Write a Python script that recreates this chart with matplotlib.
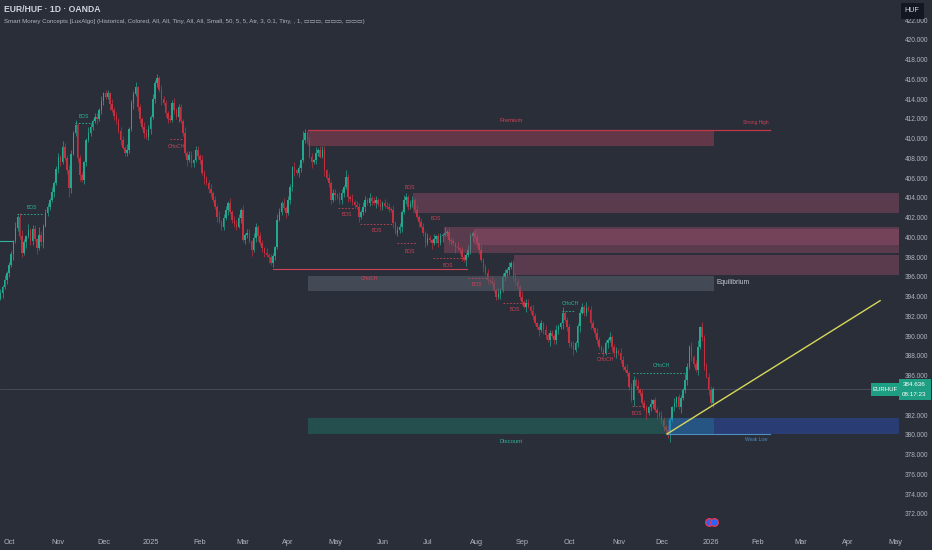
import matplotlib
matplotlib.use("Agg")
import numpy as np
import pandas as pd
import matplotlib.pyplot as plt
from matplotlib.patches import Rectangle
from matplotlib import font_manager

# ---------------- data ----------------
START_DATE = "2024-09-25"
OPEN0 = 393.8
CLOSE = [
    394.4, 395.0, 395.7, 396.4, 397.2, 398.3, 399.6, 401.0, 402.1, 400.2,
    398.4, 399.5, 400.1, 400.8, 399.6, 400.9, 399.8, 398.9, 400.3, 399.5,
    401.2, 402.5, 403.1, 403.8, 404.6, 405.5, 406.9, 408.2, 407.6, 409.2,
    408.0, 406.8, 405.0, 408.5, 410.6, 411.4, 408.0, 406.3, 405.8, 407.6,
    409.9, 410.6, 411.2, 411.8, 412.2, 412.0, 412.9, 413.8, 414.6, 414.2,
    414.6, 413.5, 412.9, 412.3, 411.9, 410.8, 409.9, 409.1, 408.6, 408.9,
    411.0, 413.6, 414.5, 415.2, 413.2, 412.0, 411.2, 410.6, 410.2, 411.0,
    412.2, 414.0, 415.6, 416.2, 414.9, 414.0, 413.6, 412.6, 412.0, 411.9,
    413.6, 412.9, 412.2, 413.2, 411.8, 410.6, 408.6, 407.8, 408.4, 407.5,
    407.8, 408.9, 408.3, 407.8, 406.5, 406.0, 405.5, 404.9, 404.5, 403.8,
    403.1, 402.1, 401.6, 401.1, 402.0, 402.8, 403.5, 402.6, 401.8, 401.4,
    401.1, 402.0, 402.8, 399.7, 400.3, 400.5, 399.6, 398.7, 399.9, 401.1,
    400.2, 399.4, 398.9, 398.4, 398.2, 398.0, 397.4, 398.1, 399.0, 401.8,
    402.6, 403.5, 403.0, 402.5, 403.8, 405.1, 407.1, 406.8, 406.5, 407.0,
    407.8, 409.9, 410.6, 409.8, 408.2, 407.6, 407.8, 408.6, 408.9, 408.2,
    408.9, 406.8, 406.0, 405.5, 403.8, 404.5, 404.3, 404.1, 403.8, 404.5,
    405.1, 406.1, 404.1, 403.9, 403.6, 403.3, 403.1, 402.1, 402.6, 403.1,
    403.8, 403.5, 404.0, 403.7, 403.5, 403.8, 403.4, 403.1, 403.5, 403.2,
    403.1, 402.9, 402.8, 401.5, 400.5, 400.8, 401.1, 402.6, 403.8, 404.1,
    403.1, 403.4, 403.8, 402.8, 402.1, 401.6, 401.1, 400.5, 399.4, 399.9,
    399.7, 399.4, 399.8, 400.1, 399.4, 400.1, 400.3, 400.5, 400.6, 399.7,
    399.6, 399.4, 399.0, 398.9, 398.7, 398.0, 397.7, 398.2, 398.7, 400.1,
    400.5, 400.0, 399.4, 398.7, 397.7, 397.0, 396.4, 395.7, 395.6, 395.4,
    394.7, 394.0, 394.3, 394.7, 396.0, 396.4, 396.7, 397.0, 397.4, 396.0,
    395.5, 395.0, 394.0, 393.5, 393.0, 393.4, 393.0, 392.6, 392.0, 391.3,
    390.9, 390.6, 391.3, 390.6, 390.1, 389.6, 390.3, 390.0, 389.6, 390.6,
    390.9, 391.3, 392.4, 391.6, 390.9, 389.3, 389.0, 388.6, 389.3, 391.0,
    392.4, 393.0, 392.4, 392.9, 392.7, 391.3, 390.8, 390.3, 389.6, 388.9,
    388.6, 388.3, 389.3, 389.6, 389.9, 388.9, 388.3, 388.5, 388.3, 387.6,
    386.9, 386.6, 386.3, 384.9, 383.5, 385.6, 385.0, 384.6, 384.3, 383.2,
    382.7, 382.2, 382.8, 383.1, 383.5, 382.5, 382.2, 381.9, 381.5, 380.8,
    380.5, 380.2, 381.5, 382.8, 383.2, 383.8, 382.8, 383.7, 384.6, 385.6,
    386.9, 388.9, 387.9, 387.2, 386.6, 388.9, 390.9, 389.9, 386.9, 385.9,
    384.6, 383.2, 384.636,
]
# wick lengths (one digit per bar, in WICK_UNIT steps), upper / lower
UPPER_WICK = ("2131221312" "3213122142" "1221312213" "2232131221" "1321221312"
              "2132212213" "1223121322" "1322132212" "2312213122" "1221321231"
              "2131221312" "2213122132" "1221312213" "2131221312" "1521221312"
              "2213122132" "1421312213" "2131221312" "2213122132" "1221312213"
              "2131221312" "2213122132" "1221312213" "2131221312" "2213122132"
              "1221312213" "2131221312" "2213122132" "1221312213" "2131221312"
              "2213122132" "1221312213" "2131241312" "221")
LOWER_WICK = ("1312213122" "2131221312" "3122131221" "1253122312" "2122131221"
              "1312213122" "2131221312" "3122131221" "1213122312" "2122131221"
              "1312213122" "2131221312" "3122131221" "1213122312" "2122131221"
              "1312213122" "2131221312" "3122131221" "1213122312" "2122131221"
              "1312213122" "2131221312" "3122131221" "1213122312" "2122131221"
              "1312213122" "2131221312" "3122131221" "1213122312" "2122131221"
              "1312213122" "2351221312" "3122131221" "312")
WICK_UNIT = 0.18

PRICE_TICKS = list(range(372, 424, 2))
HIDDEN_TICKS = [384]          # covered by the last-price label in the reference
LAST_PRICE = 384.636
COUNTDOWN = "08:17:23"

# zones: (left bar, right bar, low, high)
PREMIUM = (143.3, 332.5, 409.3, 410.9)
EQUILIB = (143.3, 332.5, 394.6, 396.1)
DISCOUNT = (143.3, 332.5, 380.1, 381.7)
WEAKLOW_BOX = (311.1, 418.7, 380.1, 381.7)
ORDER_BLOCKS = [
    (192.3, 418.7, 402.5, 404.5),
    (206.7, 418.7, 398.4, 401.1),
    (220.7, 418.7, 399.2, 400.9),
    (239.3, 418.7, 396.2, 398.2),
]
STRONG_HIGH_LINE = (143.3, 358.6, 410.9)
WEAK_LOW_LINE = (310.6, 358.6, 380.1)
TRENDLINE = [(310.6, 380.1), (409.9, 393.6)]

# structure lines: (x0, x1, price, kind, label, label_x, label_price, dashed)
STRUCT = [
    (7.7, 19.8, 402.4, "bull", "BOS", 14.7, 403.0, True),
    (34.8, 41.7, 411.6, "bull", "BOS", 39.0, 412.3, True),
    (79.0, 85.0, 410.0, "bear", "CHoCH", 82.0, 409.2, True),
    (126.9, 217.4, 396.8, "bear", "CHoCH", 172.0, 395.8, False),
    (157.3, 165.2, 403.0, "bear", "BOS", 161.5, 402.3, True),
    (167.5, 182.5, 401.4, "bear", "BOS", 175.5, 400.7, True),
    (184.8, 194.1, 399.4, "bear", "BOS", 190.9, 398.6, True),
    (201.6, 215.1, 397.9, "bear", "BOS", 208.6, 397.2, True),
    (217.9, 226.7, 395.9, "bear", "BOS", 222.1, 395.2, True),
    (234.2, 245.4, 393.4, "bear", "BOS", 239.8, 392.7, True),
    (261.7, 267.8, 392.6, "bull", "CHoCH", 265.4, 393.3, True),
    (278.5, 285.0, 388.3, "bear", "CHoCH", 281.8, 387.6, True),
    (294.8, 320.0, 386.3, "bull", "CHoCH", 307.8, 387.0, True),
    (294.3, 299.4, 382.9, "bear", "BOS", 296.7, 382.2, True),
    (-0.2, 5.9, 399.65, "bull", "", 0, 0, False),
]
EXTRA_LABELS = [("BOS", 190.9, 405.1, "bear"), ("BOS", 203.0, 401.9, "bear")]

TITLE = "EUR/HUF · 1D · OANDA"
SUBTITLE = ("Smart Money Concepts [LuxAlgo] (Historical, Colored, All, All, Tiny, All, All, "
            "Small, 50, 5, 5, Atr, 3, 0.1, Tiny, , 1, ▭▭▭, ▭▭▭, ▭▭▭)")

# ---------------- style ----------------
BG = "#2a2e39"
TXT = "#b2b5be"
GREEN = "#22a88f"
RED = "#c4303f"
LBL_RED = "#cc4458"
LBL_GREEN = "#2bb59a"


def pick(fams):
    for f in fams:
        try:
            font_manager.findfont(f, fallback_to_default=False)
            return f
        except Exception:
            pass
    return "DejaVu Sans"


NARROW = pick(["Liberation Sans Narrow", "Liberation Sans", "DejaVu Sans"])
plt.rcParams["font.family"] = [NARROW, "DejaVu Sans"]

W, H = 932, 550
fig = plt.figure(figsize=(W / 100, H / 100), dpi=100, facecolor=BG)
ax = fig.add_axes([0, 22 / H, 899 / W, 528 / H])
ax.set_facecolor(BG)
ax.set_xlim(-0.19, 418.7)
ax.set_ylim(370.58, 424.05)
for s in ax.spines.values():
    s.set_visible(False)

close = np.array(CLOSE)
n = len(close)
idx = np.arange(n)
opens = np.r_[OPEN0, close[:-1]]
up = np.array([int(c) for c in UPPER_WICK]) * WICK_UNIT
dn = np.array([int(c) for c in LOWER_WICK]) * WICK_UNIT
hi = np.maximum(opens, close) + up
lo = np.minimum(opens, close) - dn
cols = np.where(close >= opens, GREEN, RED)

ax.vlines(idx, lo, hi, colors=cols, lw=0.5, zorder=2)
ax.bar(idx, np.maximum(np.abs(close - opens), 0.06), bottom=np.minimum(opens, close),
       width=0.72, color=cols, linewidth=0, zorder=2)

# current price line
ax.axhline(LAST_PRICE, color="#4a4f5c", lw=0.6, zorder=1)


def box(z, fc, alpha, zo=3):
    x0, x1, y0, y1 = z
    ax.add_patch(Rectangle((x0, y0), x1 - x0, y1 - y0, facecolor=fc, alpha=alpha,
                           edgecolor="none", zorder=zo))


box(PREMIUM, "#a8435a", 0.45)
for ob in ORDER_BLOCKS:
    box(ob, "#9c4f6a", 0.42)
box(EQUILIB, "#565c6a", 0.6)
box(DISCOUNT, "#1e8a78", 0.35)
box(WEAKLOW_BOX, "#2962ff", 0.3)

ax.plot(STRONG_HIGH_LINE[:2], [STRONG_HIGH_LINE[2]] * 2, color="#c0394a", lw=0.9, zorder=4)
ax.plot(WEAK_LOW_LINE[:2], [WEAK_LOW_LINE[2]] * 2, color="#4f8fc0", lw=0.8, zorder=4)
ax.plot([p[0] for p in TRENDLINE], [p[1] for p in TRENDLINE], color="#d8d85a", lw=1.0, zorder=5)

for x0, x1, p, kind, lab, lx, lp, dashed in STRUCT:
    c = LBL_GREEN if kind == "bull" else LBL_RED
    ax.plot([x0, x1], [p, p], color=c, lw=0.8 if not dashed else 0.6,
            ls=(0, (2, 2)) if dashed else "-", zorder=4)
    if lab:
        ax.text(lx, lp, lab, color=c, fontsize=3.6, ha="center", va="center", zorder=6)
for lab, lx, lp, kind in EXTRA_LABELS:
    ax.text(lx, lp, lab, color=LBL_RED, fontsize=3.6, ha="center", va="center", zorder=6)

ax.text(238, 411.85, "Premium", color=LBL_RED, fontsize=4.2, ha="center", va="center", zorder=6)
ax.text(352, 411.6, "Strong High", color=LBL_RED, fontsize=3.4, ha="center", va="center", zorder=6)
ax.text(238, 379.3, "Discount", color=LBL_GREEN, fontsize=4.2, ha="center", va="center", zorder=6)
ax.text(352, 379.5, "Weak Low", color="#4f8fc0", fontsize=3.4, ha="center", va="center", zorder=6)
ax.text(333.8, 395.4, "Equilibrium", color="#c9ccd4", fontsize=4.8, ha="left", va="center", zorder=6)

# icon at the bottom
ax.plot([330.0], [371.2], "o", ms=5.5, mfc="#2962ff", mec="#f23645", mew=0.9, clip_on=False, zorder=7)
ax.plot([332.6], [371.2], "o", ms=5.5, mfc="#2962ff", mec="#f23645", mew=0.9, clip_on=False, zorder=7)

# x ticks: first business day of each month
full = pd.bdate_range(START_DATE, "2026-05-31")
s = pd.Series(np.arange(len(full)), index=full)
firsts = s.groupby([full.year, full.month]).first()
pos, labs = [], []
for (yy, mm), i in firsts.items():
    if yy == 2024 and mm < 10:
        continue
    pos.append(i)
    labs.append(str(yy) if mm == 1 else pd.Timestamp(yy, mm, 1).strftime("%b"))
ax.set_xticks(pos)
ax.set_xticklabels(labs)
ax.tick_params(axis="x", length=0, pad=8, labelsize=5.3, labelcolor=TXT)

ax.yaxis.tick_right()
ax.set_yticks(PRICE_TICKS)
ax.set_yticklabels(["" if v in HIDDEN_TICKS else f"{v:.3f}" for v in PRICE_TICKS])
ax.tick_params(axis="y", length=0, pad=4, labelsize=4.7, labelcolor=TXT)


def fpx(x, y):
    return x / W, 1 - y / H


# price labels on axis
fig.add_artist(Rectangle(fpx(871, 396), 28 / W, 13 / H, transform=fig.transFigure,
                         facecolor="#1e9e82", edgecolor="none", zorder=10))
fig.text(*fpx(885, 389.5), "EURHUF", color="white", fontsize=4.3, ha="center", va="center", zorder=11)
fig.add_artist(Rectangle(fpx(899, 400), 32 / W, 21 / H, transform=fig.transFigure,
                         facecolor="#1e9e82", edgecolor="none", zorder=10))
fig.text(*fpx(914.5, 384.3), f"{LAST_PRICE:.3f}", color="white", fontsize=4.5, ha="center", va="center", zorder=11)
fig.text(*fpx(914.5, 394.6), COUNTDOWN, color="white", fontsize=4.5, ha="center", va="center", zorder=11)

fig.add_artist(Rectangle(fpx(901, 19), 23 / W, 16 / H, transform=fig.transFigure,
                         facecolor="#131722", edgecolor="none", zorder=10))
fig.text(*fpx(912, 11), "HUF", color="#d1d4dc", fontsize=5.2, ha="center", va="center", zorder=11)

fig.text(*fpx(4, 9), TITLE, color="#d1d4dc", fontsize=6.2, ha="left", va="center", fontweight="bold")
fig.text(*fpx(4, 21), SUBTITLE, color=TXT, fontsize=4.4, ha="left", va="center")

fig.savefig("out.png", dpi=100, facecolor=BG)
